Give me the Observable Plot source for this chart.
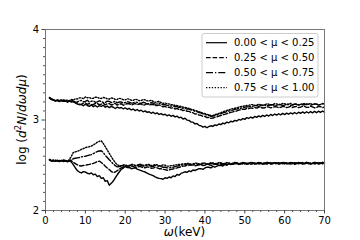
<!DOCTYPE html>
<html><head><meta charset="utf-8">
<script src="https://cdn.jsdelivr.net/npm/d3@7"></script>
<script src="https://cdn.jsdelivr.net/npm/@observablehq/plot@0.6"></script>
<style>body{margin:0;background:#fff}svg{display:block}</style>
</head><body><div id="chart"></div><script>
const omega = [
1,1.5,2,2.5,3,3.5,4,4.5,5,5.5,
6,6.5,7,7.5,8,8.5,9,9.5,10,10.5,
11,11.5,12,12.5,13,13.5,14,14.5,15,15.5,
16,16.5,17,17.5,18,18.5,19,19.5,20,20.5,
21,21.5,22,22.5,23,23.5,24,24.5,25,25.5,
26,26.5,27,27.5,28,28.5,29,29.5,30,30.5,
31,31.5,32,32.5,33,33.5,34,34.5,35,35.5,
36,36.5,37,37.5,38,38.5,39,39.5,40,40.5,
41,41.5,42,42.5,43,43.5,44,44.5,45,45.5,
46,46.5,47,47.5,48,48.5,49,49.5,50,50.5,
51,51.5,52,52.5,53,53.5,54,54.5,55,55.5,
56,56.5,57,57.5,58,58.5,59,59.5,60,60.5,
61,61.5,62,62.5,63,63.5,64,64.5,65,65.5,
66,66.5,67,67.5,68,68.5,69,69.5,70];
const muLabels = ["0.00 < μ < 0.25","0.25 < μ < 0.50","0.50 < μ < 0.75","0.75 < μ < 1.00"];
const xTicks = [0,10,20,30,40,50,60,70];
const yTicks = [2,3,4];

// upper group (0.00-0.25, 0.25-0.50, 0.50-0.75, 0.75-1.00)
const upper0 = [
3.250,3.232,3.224,3.212,3.221,3.206,3.220,3.209,3.213,3.199,
3.214,3.201,3.204,3.188,3.176,3.169,3.173,3.157,3.174,3.160,
3.151,3.166,3.147,3.161,3.144,3.158,3.150,3.163,3.141,3.153,
3.137,3.151,3.141,3.127,3.143,3.131,3.138,3.124,3.133,3.119,
3.128,3.111,3.121,3.104,3.116,3.099,3.108,3.091,3.101,3.084,
3.091,3.074,3.086,3.069,3.079,3.061,3.071,3.057,3.063,3.047,
3.056,3.041,3.051,3.034,3.043,3.024,3.031,3.011,3.019,2.999,
2.996,2.977,2.976,2.957,2.961,2.941,2.936,2.921,2.930,2.914,
2.928,2.936,2.929,2.946,2.939,2.956,2.949,2.966,2.959,2.976,
2.969,2.986,2.979,2.996,2.989,3.006,2.999,3.016,3.007,3.026,
3.017,3.033,3.021,3.039,3.029,3.046,3.034,3.051,3.039,3.056,
3.044,3.061,3.049,3.066,3.054,3.069,3.057,3.073,3.059,3.076,
3.064,3.079,3.067,3.083,3.069,3.086,3.073,3.089,3.075,3.091,
3.077,3.093,3.079,3.096,3.081,3.097,3.084,3.099,3.087];
const upper1 = [
3.245,3.228,3.219,3.214,3.218,3.204,3.216,3.207,3.210,3.196,
3.211,3.199,3.203,3.192,3.188,3.176,3.171,3.186,3.188,3.174,
3.181,3.168,3.171,3.184,3.182,3.169,3.175,3.188,3.167,3.179,
3.181,3.166,3.172,3.186,3.164,3.176,3.179,3.163,3.170,3.183,
3.180,3.167,3.172,3.183,3.168,3.177,3.178,3.163,3.170,3.181,
3.165,3.174,3.172,3.158,3.160,3.167,3.155,3.146,3.150,3.139,
3.142,3.131,3.135,3.122,3.128,3.113,3.118,3.104,3.110,3.096,
3.095,3.083,3.080,3.066,3.068,3.054,3.052,3.040,3.040,3.027,
3.028,3.018,3.022,3.030,3.035,3.043,3.050,3.058,3.062,3.071,
3.078,3.085,3.090,3.097,3.100,3.110,3.112,3.120,3.118,3.128,
3.125,3.133,3.130,3.138,3.132,3.143,3.140,3.133,3.135,3.146,
3.142,3.134,3.138,3.149,3.145,3.136,3.140,3.151,3.148,3.137,
3.142,3.153,3.138,3.147,3.148,3.136,3.142,3.152,3.150,3.139,
3.140,3.151,3.145,3.135,3.138,3.150,3.148,3.137,3.142];
const upper2 = [
3.240,3.226,3.222,3.209,3.210,3.223,3.220,3.206,3.212,3.219,
3.205,3.216,3.210,3.198,3.200,3.214,3.215,3.202,3.205,3.218,
3.198,3.207,3.212,3.196,3.200,3.211,3.205,3.193,3.195,3.208,
3.205,3.192,3.198,3.208,3.190,3.199,3.200,3.187,3.192,3.203,
3.198,3.186,3.188,3.199,3.195,3.182,3.185,3.196,3.190,3.178,
3.182,3.192,3.188,3.174,3.178,3.187,3.175,3.168,3.170,3.162,
3.162,3.153,3.158,3.146,3.150,3.138,3.142,3.128,3.132,3.121,
3.120,3.111,3.108,3.096,3.092,3.083,3.078,3.068,3.062,3.055,
3.050,3.040,3.042,3.050,3.055,3.063,3.070,3.078,3.085,3.093,
3.100,3.104,3.110,3.117,3.120,3.128,3.130,3.138,3.140,3.146,
3.145,3.152,3.152,3.160,3.158,3.150,3.160,3.168,3.165,3.156,
3.160,3.170,3.168,3.158,3.162,3.173,3.170,3.160,3.165,3.175,
3.172,3.162,3.166,3.176,3.170,3.160,3.175,3.168,3.168,3.178,
3.174,3.164,3.168,3.178,3.175,3.165,3.170,3.180,3.176];
const upper3 = [
3.243,3.229,3.225,3.213,3.218,3.210,3.212,3.222,3.220,3.210,
3.215,3.226,3.222,3.234,3.232,3.244,3.245,3.235,3.255,3.246,
3.248,3.238,3.240,3.252,3.252,3.240,3.238,3.249,3.245,3.233,
3.232,3.243,3.240,3.228,3.228,3.240,3.235,3.224,3.222,3.234,
3.230,3.219,3.218,3.229,3.225,3.213,3.215,3.226,3.222,3.212,
3.210,3.219,3.205,3.196,3.200,3.207,3.192,3.184,3.188,3.180,
3.178,3.169,3.170,3.160,3.160,3.150,3.152,3.142,3.140,3.132,
3.128,3.120,3.115,3.105,3.100,3.092,3.085,3.076,3.070,3.062,
3.058,3.050,3.050,3.060,3.065,3.074,3.080,3.090,3.098,3.106,
3.112,3.120,3.125,3.130,3.135,3.142,3.148,3.152,3.155,3.162,
3.162,3.170,3.170,3.160,3.165,3.175,3.168,3.160,3.168,3.178,
3.175,3.165,3.170,3.180,3.178,3.168,3.172,3.182,3.180,3.170,
3.174,3.184,3.168,3.176,3.178,3.168,3.172,3.182,3.180,3.170,
3.174,3.184,3.170,3.178,3.178,3.168,3.172,3.182,3.180];
// lower group
const lower0 = [
2.565,2.551,2.558,2.546,2.552,2.540,2.555,2.544,2.550,2.538,
2.552,2.535,2.505,2.470,2.440,2.425,2.415,2.430,2.425,2.412,
2.405,2.415,2.395,2.402,2.375,2.385,2.355,2.362,2.322,2.330,
2.280,2.300,2.325,2.360,2.395,2.425,2.455,2.468,2.488,2.475,
2.478,2.462,2.465,2.472,2.458,2.448,2.440,2.432,2.425,2.412,
2.402,2.394,2.385,2.372,2.362,2.355,2.352,2.345,2.362,2.355,
2.370,2.362,2.382,2.375,2.398,2.390,2.410,2.418,2.428,2.422,
2.438,2.430,2.448,2.442,2.452,2.462,2.462,2.455,2.470,2.478,
2.478,2.470,2.488,2.480,2.490,2.498,2.500,2.492,2.508,2.502,
2.518,2.508,2.512,2.522,2.520,2.510,2.515,2.525,2.522,2.512,
2.516,2.528,2.525,2.514,2.518,2.528,2.522,2.512,2.515,2.527,
2.525,2.514,2.518,2.529,2.526,2.515,2.520,2.530,2.515,2.524,
2.524,2.513,2.518,2.528,2.526,2.515,2.520,2.530,2.514,2.524,
2.524,2.513,2.518,2.528,2.526,2.516,2.520,2.530,2.525];
const lower1 = [
2.560,2.546,2.548,2.556,2.546,2.553,2.552,2.541,2.552,2.545,
2.545,2.550,2.530,2.518,2.505,2.495,2.492,2.498,2.500,2.506,
2.510,2.515,2.520,2.528,2.540,2.545,2.530,2.512,2.490,2.470,
2.452,2.432,2.418,2.425,2.440,2.458,2.470,2.482,2.488,2.478,
2.475,2.486,2.485,2.476,2.478,2.488,2.482,2.472,2.472,2.482,
2.478,2.467,2.468,2.478,2.472,2.462,2.462,2.455,2.452,2.445,
2.448,2.455,2.458,2.466,2.470,2.478,2.482,2.490,2.492,2.500,
2.498,2.506,2.502,2.494,2.498,2.508,2.505,2.497,2.500,2.510,
2.508,2.498,2.502,2.512,2.510,2.501,2.505,2.516,2.512,2.503,
2.518,2.508,2.510,2.520,2.518,2.508,2.522,2.513,2.514,2.524,
2.520,2.510,2.516,2.526,2.524,2.514,2.518,2.528,2.522,2.512,
2.516,2.527,2.524,2.514,2.518,2.528,2.525,2.515,2.520,2.529,
2.515,2.525,2.524,2.513,2.518,2.529,2.525,2.515,2.520,2.530,
2.516,2.526,2.524,2.514,2.520,2.530,2.526,2.515,2.520];
const lower2 = [
2.556,2.549,2.545,2.553,2.552,2.542,2.548,2.557,2.552,2.543,
2.552,2.560,2.572,2.578,2.582,2.586,2.592,2.596,2.600,2.606,
2.612,2.618,2.628,2.640,2.652,2.658,2.660,2.640,2.610,2.585,
2.560,2.538,2.515,2.495,2.482,2.486,2.490,2.498,2.500,2.490,
2.492,2.502,2.502,2.492,2.495,2.505,2.500,2.490,2.490,2.500,
2.498,2.487,2.488,2.497,2.495,2.485,2.485,2.478,2.478,2.472,
2.470,2.475,2.478,2.485,2.490,2.496,2.500,2.506,2.508,2.512,
2.512,2.503,2.505,2.515,2.515,2.505,2.510,2.519,2.518,2.508,
2.512,2.522,2.520,2.510,2.514,2.524,2.522,2.512,2.516,2.526,
2.522,2.512,2.518,2.528,2.525,2.515,2.518,2.528,2.524,2.514,
2.520,2.530,2.526,2.516,2.519,2.529,2.525,2.515,2.520,2.530,
2.527,2.517,2.520,2.530,2.524,2.514,2.518,2.528,2.526,2.516,
2.520,2.530,2.525,2.515,2.518,2.528,2.526,2.516,2.522,2.532,
2.527,2.517,2.520,2.530,2.525,2.515,2.520,2.530,2.526];
const lower3 = [
2.562,2.550,2.552,2.544,2.555,2.548,2.548,2.556,2.552,2.540,
2.565,2.600,2.642,2.648,2.655,2.664,2.675,2.684,2.695,2.700,
2.705,2.712,2.725,2.738,2.755,2.765,2.770,2.740,2.705,2.668,
2.632,2.595,2.560,2.530,2.505,2.498,2.495,2.502,2.505,2.496,
2.498,2.508,2.508,2.498,2.500,2.511,2.510,2.499,2.500,2.510,
2.508,2.497,2.498,2.508,2.505,2.494,2.495,2.505,2.500,2.490,
2.490,2.496,2.498,2.504,2.505,2.510,2.510,2.516,2.515,2.520,
2.520,2.512,2.514,2.524,2.522,2.514,2.516,2.526,2.524,2.515,
2.518,2.528,2.525,2.516,2.520,2.530,2.527,2.518,2.520,2.530,
2.526,2.516,2.522,2.532,2.528,2.518,2.520,2.530,2.526,2.516,
2.522,2.532,2.528,2.518,2.520,2.530,2.526,2.516,2.522,2.532,
2.528,2.518,2.520,2.530,2.527,2.517,2.522,2.532,2.528,2.518,
2.520,2.530,2.526,2.516,2.522,2.532,2.528,2.518,2.522,2.531,
2.526,2.516,2.522,2.532,2.528,2.518,2.522,2.531,2.527];

const upperSeries = [upper0, upper1, upper2, upper3];
const lowerSeries = [lower0, lower1, lower2, lower3];
const dashes = [null, "4.6,2", "7,2,1.3,2", "1.3,1.6"];

const xMinor = d3.range(0, 71, 2).filter(v => v % 10 !== 0);
const yMinor = d3.range(2, 4.001, 0.1).map(v => +v.toFixed(1)).filter(v => !yTicks.includes(v));

function toRows(vals){ return omega.map((w,i) => ({omega:w, value:vals[i]})).filter(d => d.value != null); }

const lineMarks = [];
[upperSeries, lowerSeries].forEach(group => {
  group.forEach((vals, k) => {
    lineMarks.push(Plot.line(toRows(vals), {x:"omega", y:"value", stroke:"#000", strokeWidth:1.4, strokeDasharray: dashes[k] || undefined}));
  });
});

const svg = Plot.plot({
  width: 360, height: 240,
  marginLeft: 45, marginRight: 36, marginTop: 29, marginBottom: 30,
  style: {fontFamily: "DejaVu Sans", fontSize: "10px", color: "#000", background: "#fff"},
  x: {domain: [0, 70]},
  y: {domain: [2, 4]},
  marks: [
    ...lineMarks,
    Plot.frame({stroke: "#777", strokeWidth: 1}),
    Plot.axisX({ticks: xTicks, tickFormat: d => String(d), tickSize: 3.5, tickPadding: 2.5, label: null, stroke: "#444"}),
    Plot.axisX({ticks: xMinor, tickSize: 2, text: null, label: null, stroke: "#555"}),
    Plot.axisY({ticks: yTicks, tickFormat: d => String(d), tickSize: 3.5, tickPadding: 3, label: null, stroke: "#444"}),
    Plot.axisY({ticks: yMinor, tickSize: 2, text: null, label: null, stroke: "#555"})
  ]
});

const s = d3.select(svg);
// y label
const yl = s.append("text").attr("transform", "translate(22,119.5) rotate(-90)")
  .attr("text-anchor", "middle").attr("dominant-baseline", "middle")
  .attr("font-family", "DejaVu Sans").attr("font-size", 12).attr("fill", "#000");
yl.append("tspan").text("log (");
yl.append("tspan").attr("font-style", "italic").text("d");
yl.append("tspan").attr("font-size", 8.5).attr("dy", -4).text("2");
yl.append("tspan").attr("font-style", "italic").attr("dy", 4).text("N");
yl.append("tspan").text("/");
yl.append("tspan").attr("font-style", "italic").text("dωdμ");
yl.append("tspan").text(")");
// x label
const xl = s.append("text").attr("x", 184.5).attr("y", 235.5)
  .attr("text-anchor", "middle").attr("font-family", "DejaVu Sans").attr("font-size", 12).attr("fill", "#000");
xl.append("tspan").attr("font-style", "italic").text("ω");
xl.append("tspan").text("(keV)");

// legend
const lg = s.append("g").attr("font-family", "DejaVu Sans").attr("font-size", 10).attr("text-anchor", "start");
lg.append("rect").attr("x", 202).attr("y", 33.5).attr("width", 116).attr("height", 63.5)
  .attr("rx", 2).attr("fill", "#fff").attr("fill-opacity", 0.85).attr("stroke", "#ccc");
muLabels.forEach((lab, k) => {
  const yy = 42.7 + k * 15;
  lg.append("line").attr("x1", 206).attr("x2", 227).attr("y1", yy).attr("y2", yy)
    .attr("stroke", "#000").attr("stroke-width", 1.2).attr("stroke-dasharray", dashes[k]);
  lg.append("text").attr("x", 234).attr("y", yy).attr("dy", "0.35em").attr("fill", "#000").attr("text-anchor", "start").text(lab);
});

document.getElementById("chart").appendChild(svg);
</script></body></html>
